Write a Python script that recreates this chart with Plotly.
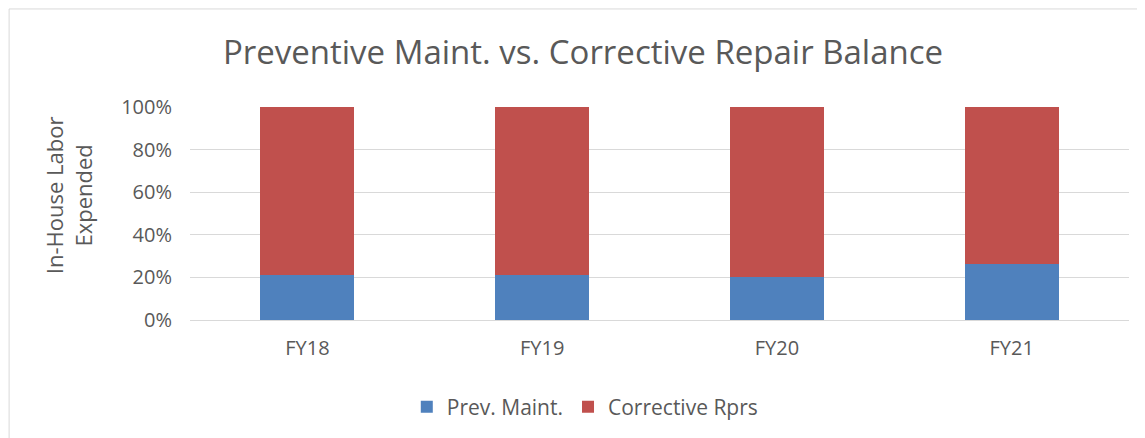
import plotly.graph_objects as go

fiscal_years = ["FY18", "FY19", "FY20", "FY21"]
prev_maint = [21.3, 21.3, 20.0, 26.2]
corrective_rprs = [78.7, 78.7, 80.0, 73.8]
y_ticks = [0, 20, 40, 60, 80, 100]
y_tick_labels = ["0%", "20%", "40%", "60%", "80%", "100%"]

# the page puts the figure 8px in from the window corner, so size for that
W, H = 1137, 430
L, R, T, B = 181.5, 16, 99, 117
pw, ph = W - L - R, H - T - B

FONT = "Open Sans"
GREY = "#595959"

fig = go.Figure()
fig.add_trace(go.Bar(x=fiscal_years, y=prev_maint, name="Prev. Maint.",
                     marker=dict(color="#4F81BD", line=dict(width=0))))
fig.add_trace(go.Bar(x=fiscal_years, y=corrective_rprs, name="Corrective Rprs",
                     marker=dict(color="#C0504D", line=dict(width=0))))

fig.update_layout(
    width=W, height=H,
    margin=dict(l=L, r=R, t=T, b=B),
    barmode="stack",
    bargap=0.6,
    plot_bgcolor="white",
    paper_bgcolor="white",
    font=dict(family=FONT, color=GREY),
    title=dict(text="Preventive Maint. vs. Corrective Repair Balance",
               font=dict(size=33, color=GREY, family=FONT),
               x=575 / W, xanchor="center", y=1 - 44 / H, yanchor="middle"),
    showlegend=True,
    legend=dict(orientation="h", x=(577 - L) / pw, xanchor="center",
                y=-(399 - (T + ph)) / ph, yanchor="middle",
                font=dict(size=21, color=GREY, family=FONT),
                itemwidth=30, traceorder="normal"),
)

fig.update_xaxes(showgrid=False, showline=False, ticks="", ticklabelstandoff=14,
                 tickfont=dict(size=20, color=GREY, family=FONT))
fig.update_yaxes(range=[0, 100], tickvals=y_ticks, ticktext=y_tick_labels,
                 showgrid=True, gridcolor="#d9d9d9", gridwidth=1,
                 zeroline=True, zerolinecolor="#d9d9d9", zerolinewidth=1,
                 showline=False, ticks="", ticklabelstandoff=17,
                 tickfont=dict(size=20, color=GREY, family=FONT))

# y axis title, two lines like the source
fig.add_annotation(text="In-House Labor<br>Expended", xref="paper", yref="paper",
                   x=(60 - L) / pw, y=(T + ph - 188) / ph, textangle=-90,
                   xanchor="center", yanchor="middle",
                   showarrow=False, font=dict(size=22, color=GREY, family=FONT))

# chart frame (left and top edges visible)
fx = (0.5 - L) / pw
fy = (T + ph - 0.5) / ph
fig.add_shape(type="line", xref="paper", yref="paper", x0=fx, x1=fx, y0=fy, y1=-1,
              line=dict(color="#d9d9d9", width=1))
fig.add_shape(type="line", xref="paper", yref="paper", x0=fx, x1=1.2, y0=fy, y1=fy,
              line=dict(color="#d9d9d9", width=1))

fig.write_html("out.html")
